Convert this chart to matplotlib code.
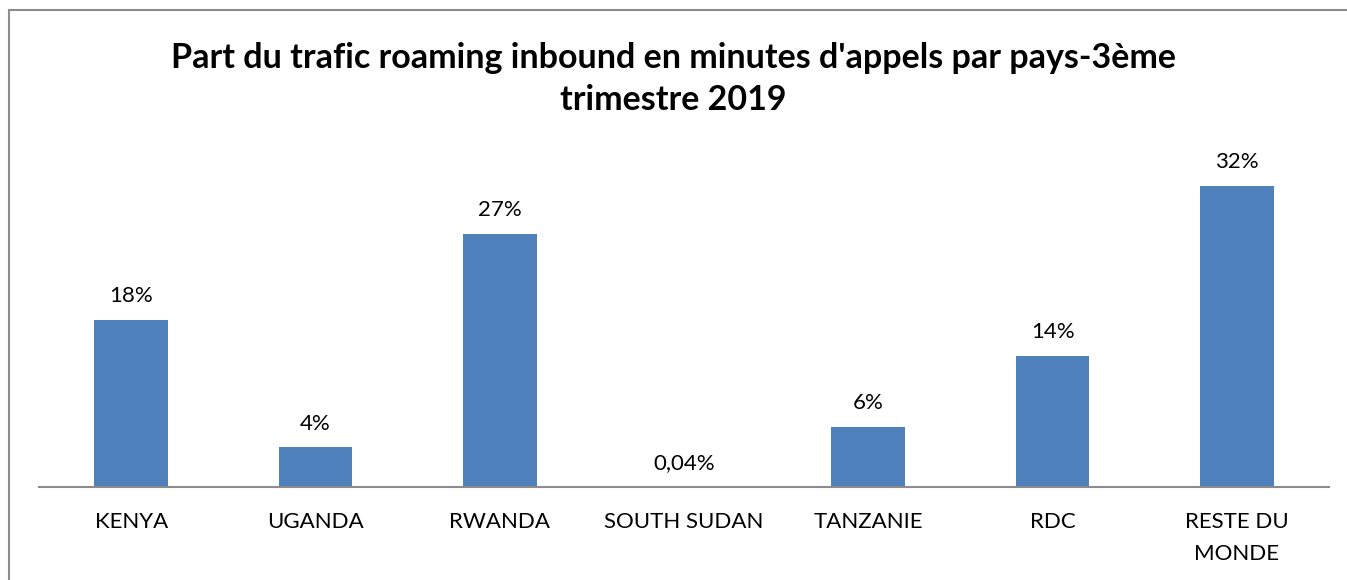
import matplotlib
matplotlib.use('Agg')
import numpy as np
from matplotlib import pyplot as plt
from matplotlib.patches import Rectangle

# === Données ===
pays = ['KENYA', 'UGANDA', 'RWANDA', 'SOUTH SUDAN', 'TANZANIE', 'RDC', 'RESTE DU\nMONDE']
parts = [17.7, 4.2, 26.9, 0.04, 6.4, 13.9, 32.0]
etiquettes = ['18%', '4%', '27%', '0,04%', '6%', '14%', '32%']

titre = "Part du trafic roaming inbound en minutes d'appels par pays-3ème\ntrimestre 2019"

plt.rcParams['font.family'] = ['Lato', 'DejaVu Sans']

W, H = 1347, 580
fig = plt.figure(figsize=(W / 100, H / 100), dpi=100, facecolor='white')

# cadre gris du graphique
fig.patches.append(Rectangle((9 / W, -0.01), 1.2, (H - 10) / H + 0.01,
                             transform=fig.transFigure, fill=False,
                             edgecolor='#8c8c8c', linewidth=1.5))

ymax = 36.0
ax = fig.add_axes([39 / W, (H - 487) / H, (1329 - 39) / W, 339 / H])
x = np.arange(len(pays))
bars = ax.bar(x, parts, width=0.40, color='#4F81BD', zorder=2)
ax.set_xlim(-0.5, len(pays) - 0.5)
ax.set_ylim(0, ymax)

for rect, lab in zip(bars, etiquettes):
    ax.annotate(lab, (rect.get_x() + rect.get_width() / 2, rect.get_height()),
                xytext=(0, 10), textcoords='offset points',
                ha='center', va='bottom', fontsize=16, color='black')

for s in ['top', 'right', 'left']:
    ax.spines[s].set_visible(False)
ax.spines['bottom'].set_color('#8c8c8c')
ax.spines['bottom'].set_linewidth(1.5)
ax.set_yticks([])
ax.set_xticks(x)
ax.set_xticklabels(pays, fontsize=16, linespacing=1.75)
ax.tick_params(axis='x', length=0, pad=18)

fig.text(0.5, 1 - 79 / H, titre, ha='center', va='center',
         fontsize=24.5, fontweight='bold', linespacing=1.35)

fig.savefig('out.png', dpi=100)
